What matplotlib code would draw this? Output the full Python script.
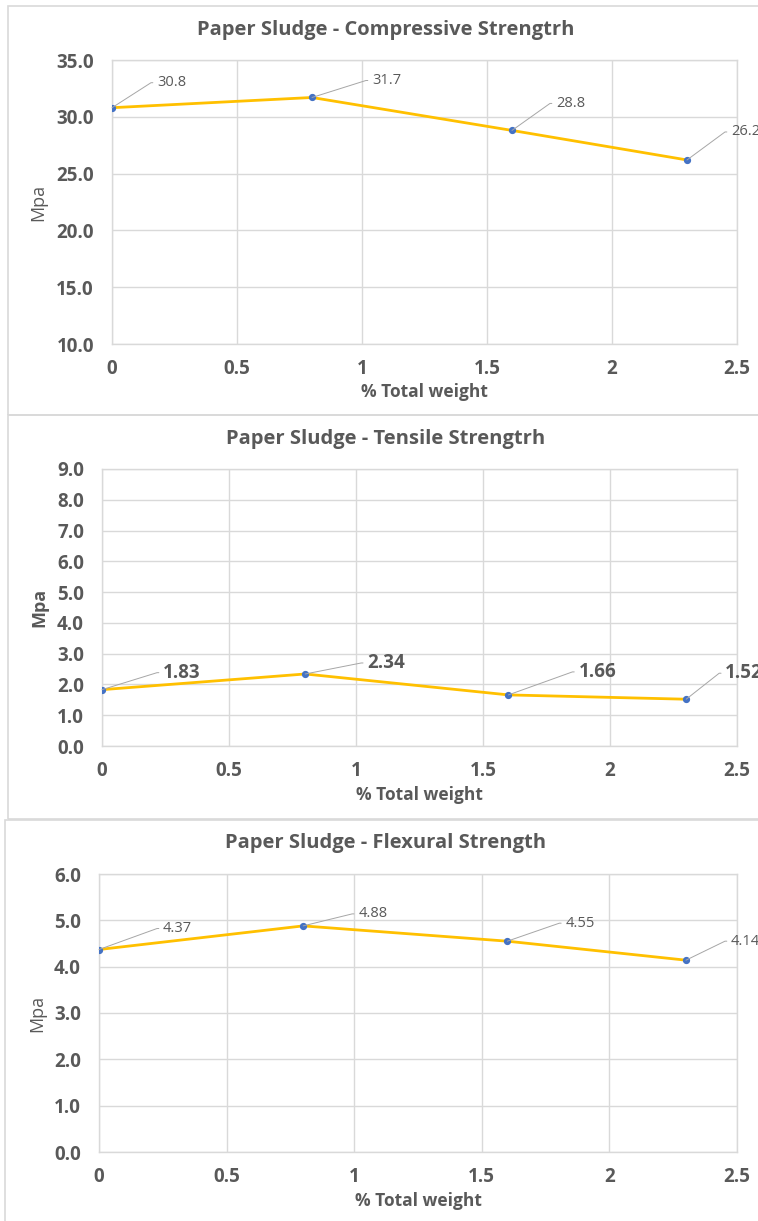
import math
import matplotlib
matplotlib.use("Agg")
import matplotlib.pyplot as plt
from matplotlib.patches import Rectangle
from matplotlib.ticker import FuncFormatter, MultipleLocator

# ---- data -------------------------------------------------------------
x_pct = [0, 0.8, 1.6, 2.3]
compressive = [30.8, 31.7, 28.8, 26.2]
tensile = [1.83, 2.34, 1.66, 1.52]
flexural = [4.37, 4.88, 4.55, 4.14]

titles = ["Paper Sludge - Compressive Strengtrh",
          "Paper Sludge - Tensile Strengtrh",
          "Paper Sludge - Flexural Strength"]
y_label = "Mpa"
x_label = "% Total weight"

# ---- layout (pixels) --------------------------------------------------
W, H = 758, 1221
plt.rcParams["font.family"] = ["Open Sans", "DejaVu Sans"]

TXT = "#595959"
GRID = "#d9d9d9"
LINE = "#FFC000"
MARK = "#4472C4"

fig = plt.figure(figsize=(W / 100, H / 100), dpi=100)
fig.patch.set_facecolor("white")


def rect(l, t, r, b):
    return [l / W, 1 - b / H, (r - l) / W, (b - t) / H]


panels = [
    dict(values=compressive, title=titles[0], frame=(8, 6, 800, 415),
         plot=(112, 60, 737, 344), ylim=(10, 35), ystep=5,
         title_y=30, xlab_y=392, ylab_x=38,
         lab_bold=False, lab_size=10.5, ylab_bold=False,
         offsets=[(45, 25), (60, 17), (44, 27), (44, 28)]),
    dict(values=tensile, title=titles[1], frame=(8, 415, 800, 819),
         plot=(102, 469, 737, 746), ylim=(0, 9), ystep=1,
         title_y=439, xlab_y=795, ylab_x=39,
         lab_bold=True, lab_size=13.5, ylab_bold=True,
         offsets=[(61, 17), (62, 11), (70, 23), (39, 26)]),
    dict(values=flexural, title=titles[2], frame=(5, 820, 800, 1260),
         plot=(99, 874, 737, 1152), ylim=(0, 6), ystep=1,
         title_y=843, xlab_y=1201, ylab_x=37,
         lab_bold=False, lab_size=10.5, ylab_bold=False,
         offsets=[(64, 21), (55, 12), (58, 18), (45, 19)]),
]

for p in panels:
    # chart frame
    fl, ft, fr, fb = p["frame"]
    fig.add_artist(Rectangle((fl / W, 1 - fb / H), (fr - fl) / W, (fb - ft) / H,
                             transform=fig.transFigure, fill=False,
                             edgecolor=GRID, linewidth=1.2))

    l, t, r, b = p["plot"]
    ax = fig.add_axes(rect(l, t, r, b))
    ax.set_xlim(0, 2.5)
    ax.set_ylim(*p["ylim"])
    ax.xaxis.set_major_locator(MultipleLocator(0.5))
    ax.yaxis.set_major_locator(MultipleLocator(p["ystep"]))
    ax.xaxis.set_major_formatter(FuncFormatter(lambda v, _: f"{v:g}"))
    ax.yaxis.set_major_formatter(FuncFormatter(lambda v, _: f"{v:.1f}"))
    ax.grid(True, color=GRID, linewidth=1)
    ax.set_axisbelow(True)
    for s in ax.spines.values():
        s.set_color(GRID)
        s.set_linewidth(1)
    ax.tick_params(length=0, labelcolor=TXT, labelsize=13.5)
    ax.tick_params(axis="y", pad=13)
    ax.tick_params(axis="x", pad=11)
    for lab in ax.get_xticklabels() + ax.get_yticklabels():
        lab.set_fontweight("bold")

    ax.plot(x_pct, p["values"], color=LINE, linewidth=2.0, marker="o",
            markersize=4.2, markerfacecolor=MARK, markeredgecolor=MARK,
            solid_joinstyle="round", zorder=3)

    for xv, yv, (dx, dy) in zip(x_pct, p["values"], p["offsets"]):
        ang = math.degrees(math.atan2(dy, dx - 6))
        ax.annotate(f"{yv:g}",
                    xy=(xv, yv), xytext=(dx, dy), textcoords="offset pixels",
                    ha="left", va="center", color=TXT,
                    fontsize=p["lab_size"],
                    fontweight="bold" if p["lab_bold"] else "normal",
                    annotation_clip=False, zorder=4,
                    arrowprops=dict(arrowstyle="-", color="#a6a6a6", lw=0.7,
                                    shrinkA=1, shrinkB=0, relpos=(0, 0.5),
                                    connectionstyle=f"angle,angleA=0,angleB={ang},rad=0"))

    ph = b - t
    pw = r - l
    ax.set_title(p["title"], fontsize=14.5, fontweight="bold", color=TXT,
                 x=(386 - l) / pw, y=(b - p["title_y"]) / ph, va="center", pad=0)
    ax.set_xlabel(x_label, fontsize=12.5, fontweight="bold", color=TXT, va="center")
    ax.xaxis.set_label_coords(0.5, -(p["xlab_y"] - b) / ph)
    ax.set_ylabel(y_label, fontsize=13, color=TXT, va="center",
                  fontweight="bold" if p["ylab_bold"] else "normal")
    ax.yaxis.set_label_coords(-(l - p["ylab_x"]) / pw, 0.5)

fig.savefig("out.png", dpi=100, facecolor="white")
